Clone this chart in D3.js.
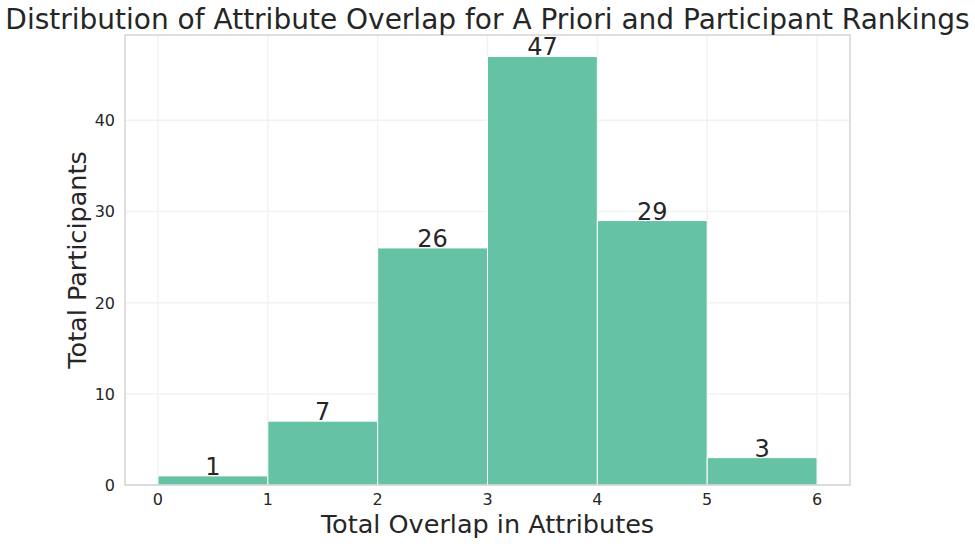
<!DOCTYPE html>
<html><head><meta charset="utf-8">
<script src="https://cdn.jsdelivr.net/npm/d3@7"></script>
<style>body{margin:0;background:#fff}svg{display:block}text{font-family:"DejaVu Sans",sans-serif;fill:#262626}</style>
</head><body><div id="c"></div>
<script>
const binStarts = [0, 1, 2, 3, 4, 5];
const counts = [1, 7, 26, 47, 29, 3];
const xTicks = [0, 1, 2, 3, 4, 5, 6];
const yTicks = [0, 10, 20, 30, 40];
const title = "Distribution of Attribute Overlap for A Priori and Participant Rankings";
const xLabel = "Total Overlap in Attributes";
const yLabel = "Total Participants";

const W = 975, H = 544;
const m = {l:125, r:125, t:35, b:59};
const svg = d3.select("#c").append("svg").attr("width", W).attr("height", H);
const x = d3.scaleLinear().domain([-0.3, 6.3]).range([m.l, W - m.r]);
const y = d3.scaleLinear().domain([0, 47 * 1.05]).range([H - m.b, m.t]);

// grid
svg.append("g").selectAll("line").data(xTicks).join("line")
  .attr("x1", d => x(d)).attr("x2", d => x(d)).attr("y1", m.t).attr("y2", H - m.b)
  .attr("stroke", "#f2f2f2").attr("stroke-width", 1.5);
svg.append("g").selectAll("line").data(yTicks).join("line")
  .attr("y1", d => y(d)).attr("y2", d => y(d)).attr("x1", m.l).attr("x2", W - m.r)
  .attr("stroke", "#f2f2f2").attr("stroke-width", 1.5);

// bars
const data = binStarts.map((s, i) => ({s, c: counts[i]}));
svg.append("g").selectAll("rect").data(data).join("rect")
  .attr("x", d => x(d.s)).attr("width", d => x(d.s + 1) - x(d.s))
  .attr("y", d => y(d.c)).attr("height", d => y(0) - y(d.c))
  .attr("fill", "#66c2a5").attr("stroke", "#fff").attr("stroke-width", 1);

// bar labels
svg.append("g").selectAll("text").data(data).join("text")
  .attr("x", d => x(d.s + 0.5)).attr("y", d => y(d.c) - 1)
  .attr("text-anchor", "middle").attr("font-size", 24).text(d => d.c);

// spines
svg.append("rect").attr("x", m.l).attr("y", m.t).attr("width", W - m.l - m.r).attr("height", H - m.t - m.b)
  .attr("fill", "none").attr("stroke", "#cccccc").attr("stroke-width", 1.25);

// tick labels
svg.append("g").selectAll("text").data(xTicks).join("text")
  .attr("x", d => x(d)).attr("y", H - m.b + 20).attr("text-anchor", "middle")
  .attr("font-size", 16).text(d => d);
svg.append("g").selectAll("text").data(yTicks).join("text")
  .attr("x", m.l - 10).attr("y", d => y(d) + 6).attr("text-anchor", "end")
  .attr("font-size", 16).text(d => d);

// axis labels
svg.append("text").attr("x", (m.l + W - m.r) / 2).attr("y", 533).attr("text-anchor", "middle")
  .attr("font-size", 25.5).text(xLabel);
svg.append("text").attr("transform", `translate(86,${(m.t + H - m.b) / 2}) rotate(-90)`)
  .attr("text-anchor", "middle").attr("font-size", 25.5).text(yLabel);
svg.append("text").attr("x", (m.l + W - m.r) / 2).attr("y", 29).attr("text-anchor", "middle")
  .attr("font-size", 28).text(title);
</script></body></html>
